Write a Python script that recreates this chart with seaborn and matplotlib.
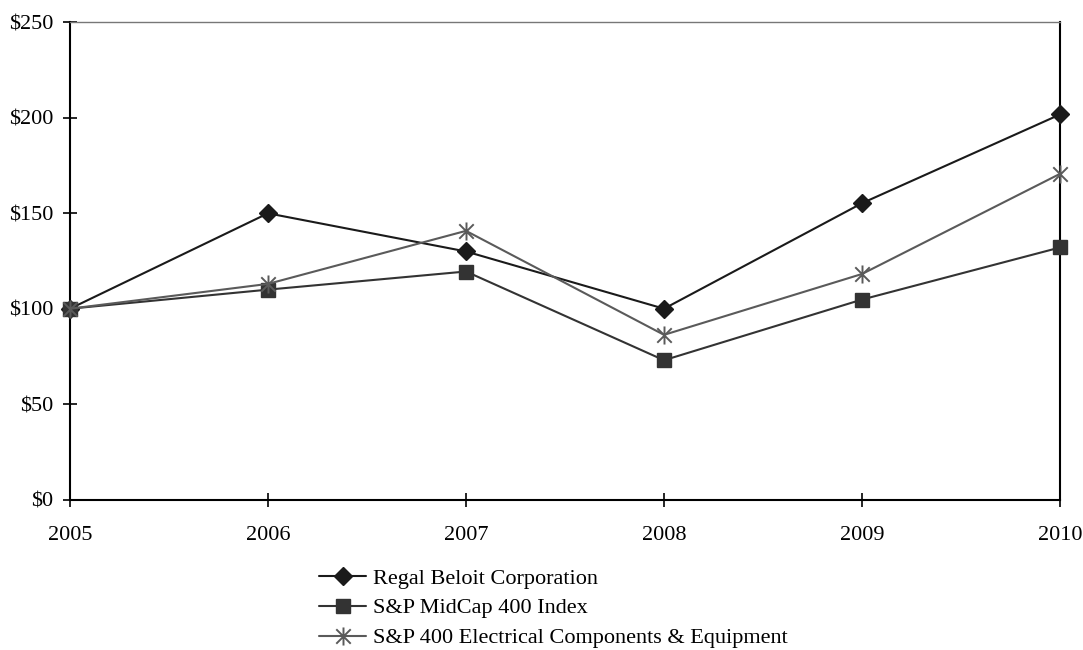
import matplotlib
matplotlib.use("Agg")
import matplotlib.pyplot as plt
from matplotlib.path import Path
import seaborn as sns
import pandas as pd

years = [2005, 2006, 2007, 2008, 2009, 2010]
regal = [100, 150, 130, 100, 155.3, 201.8]
midcap = [100, 110, 119.5, 73, 104.8, 132.1]
electrical = [100, 113, 140.8, 86.3, 118.2, 170.7]
series_names = ["Regal Beloit Corporation", "S&P MidCap 400 Index",
                "S&P 400 Electrical Components & Equipment"]
ytick_vals = [0, 50, 100, 150, 200, 250]
ytick_labels = ["$0", "$50", "$100", "$150", "$200", "$250"]

sns.set_theme(style="white")
plt.rcParams['font.family'] = ['Liberation Serif', 'DejaVu Serif']
plt.rcParams['mathtext.default'] = 'regular'
plt.rcParams['text.color'] = 'black'
plt.rcParams['xtick.color'] = 'black'
plt.rcParams['ytick.color'] = 'black'

df = pd.DataFrame({
    "year": years * 3,
    "value": regal + midcap + electrical,
    "series": [series_names[0]] * 6 + [series_names[1]] * 6 + [series_names[2]] * 6,
})

# asterisk marker: vertical stroke plus an X
star = Path([(0, -1), (0, 1), (-0.8, -0.8), (0.8, 0.8), (-0.8, 0.8), (0.8, -0.8)],
            [Path.MOVETO, Path.LINETO, Path.MOVETO, Path.LINETO, Path.MOVETO, Path.LINETO])

fig = plt.figure(figsize=(10.83, 6.5), dpi=100)
ax = fig.add_axes([0.0646, 0.2315, 0.9142, 0.7339])

colors = {series_names[0]: "#1a1a1a", series_names[1]: "#333333", series_names[2]: "#5a5a5a"}
markers = {series_names[0]: "D", series_names[1]: "s", series_names[2]: star}
sizes = {series_names[0]: 9.5, series_names[1]: 10.5, series_names[2]: 13}
mew = {series_names[0]: 1, series_names[1]: 1, series_names[2]: 1.4}

for name in series_names:
    sub = df[df["series"] == name]
    sns.lineplot(data=sub, x="year", y="value", ax=ax, color=colors[name],
                 marker=markers[name], markersize=sizes[name],
                 markeredgecolor=colors[name], markerfacecolor=colors[name],
                 markeredgewidth=mew[name], linewidth=1.5, label=name,
                 clip_on=False, zorder=3)

ax.set_xlim(2005, 2010)
ax.set_ylim(0, 250)
ax.set_xticks(years)
ax.set_xticklabels([str(y) for y in years], fontsize=16)
ax.set_yticks(ytick_vals)
ax.set_yticklabels([t.replace("$", r"\$") for t in ytick_labels], fontsize=16)
ax.set_xlabel("")
ax.set_ylabel("")
ax.tick_params(axis="both", direction="inout", length=10, width=1.2, colors="black",
               left=True, bottom=True)
ax.tick_params(axis="y", pad=7)
ax.tick_params(axis="x", pad=14)
for side in ["left", "bottom", "right"]:
    ax.spines[side].set_color("black")
    ax.spines[side].set_linewidth(1.5)
ax.spines["top"].set_color("#777777")
ax.spines["top"].set_linewidth(1.0)
ax.grid(False)

leg = ax.legend(loc="upper left", bbox_to_anchor=(0.243, -0.125), frameon=False,
                fontsize=16, handlelength=2.1, handletextpad=0.3, labelspacing=0.42,
                borderaxespad=0)
for t in leg.get_texts():
    t.set_color("black")

fig.savefig("out.png", dpi=100)
